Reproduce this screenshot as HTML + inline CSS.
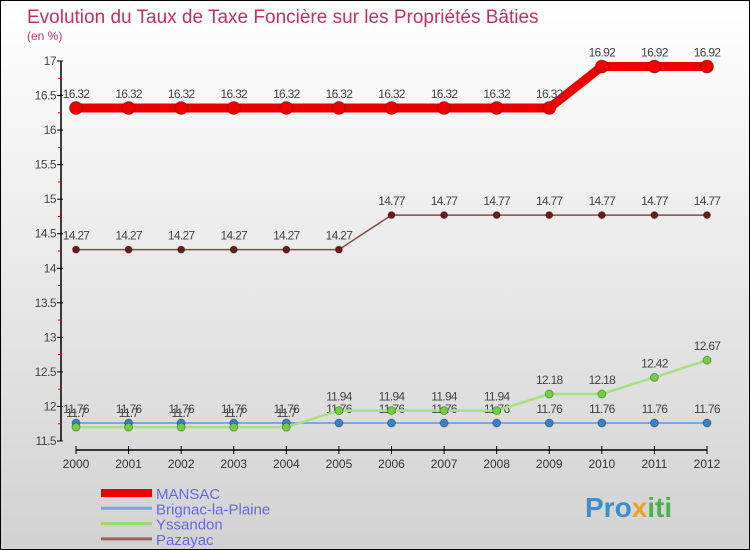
<!DOCTYPE html>
<html><head><meta charset="utf-8"><style>
body{margin:0}
#c{width:748px;height:548px;border:1px solid #000;background:linear-gradient(#fff,#d2d2d2);position:relative;font-family:"Liberation Sans",sans-serif;overflow:hidden}
</style></head><body>
<div id="c">
<svg id="s" width="748" height="548" xmlns="http://www.w3.org/2000/svg">
<text x="26" y="22" font-size="19" fill="#c0306a">Evolution du Taux de Taxe Foncière sur les Propriétés Bâties</text>
<text x="26" y="39" font-size="12" fill="#c0306a">(en %)</text>
<g id="axes"></g><g id="series"></g><g id="legend"></g>
<text x="584" y="516" font-size="28" font-weight="bold"><tspan fill="#3a8fd0">Pro</tspan><tspan fill="#f0a020">x</tspan><tspan fill="#50b050">iti</tspan></text>
</svg></div>
<script>
const years=[2000,2001,2002,2003,2004,2005,2006,2007,2008,2009,2010,2011,2012];
const mansac=[16.32,16.32,16.32,16.32,16.32,16.32,16.32,16.32,16.32,16.32,16.92,16.92,16.92];
const brignac=[11.76,11.76,11.76,11.76,11.76,11.76,11.76,11.76,11.76,11.76,11.76,11.76,11.76];
const yssandon=[11.7,11.7,11.7,11.7,11.7,11.94,11.94,11.94,11.94,12.18,12.18,12.42,12.67];
const pazayac=[14.27,14.27,14.27,14.27,14.27,14.27,14.77,14.77,14.77,14.77,14.77,14.77,14.77];
const yTicks=[11.5,12,12.5,13,13.5,14,14.5,15,15.5,16,16.5,17];
const seriesNames=["MANSAC","Brignac-la-Plaine","Yssandon","Pazayac"];
const NS="http://www.w3.org/2000/svg";
function X(i){return 75+i*(706-75)/(years.length-1);}
function Y(v){return 440-(v-11.5)*(380/5.5);}
function mk(t,a,p){const e=document.createElementNS(NS,t);for(const k in a)e.setAttribute(k,a[k]);p.appendChild(e);return e;}
const ax=document.getElementById('axes');
let e=mk('line',{x1:60,y1:60,x2:60,y2:440,stroke:'#000','stroke-width':1.5},ax);


e=mk('line',{x1:75,y1:449,x2:706,y2:449,stroke:'#000','stroke-width':1.5},ax);


yTicks.forEach((v,i)=>{
 mk('line',{x1:56,y1:Y(v),x2:62,y2:Y(v),stroke:'#000'},ax);
 if(i<yTicks.length-1)mk('line',{x1:57,y1:Y(v+0.25),x2:61,y2:Y(v+0.25),stroke:'#e00'},ax);
 const t=mk('text',{x:55,y:Y(v)+4,'font-size':12,'text-anchor':'end',fill:'#444','letter-spacing':'-0.5'},ax);
 t.textContent=String(v);
 
 
});
years.forEach((y,i)=>{
 mk('line',{x1:X(i),y1:445,x2:X(i),y2:453,stroke:'#000'},ax);
 const t=mk('text',{x:X(i),y:467,'font-size':12,'text-anchor':'middle',fill:'#333'},ax);
 t.textContent=y;
 
 
});
const sg=document.getElementById('series');
function draw(vals,name,col,dot,w,r,lab){
 const g=mk('g',{},sg);
 
 
 mk('polyline',{points:vals.map((v,i)=>X(i)+','+Y(v)).join(' '),fill:'none',stroke:col,'stroke-width':w},g);
 vals.forEach((v,i)=>{
  const c=mk('circle',{cx:X(i),cy:Y(v),r:r,fill:dot,stroke:'rgba(0,0,0,0.3)'},g);
  
  
  if(lab){const t=mk('text',{x:X(i),y:Y(v)-10,'font-size':12,'text-anchor':'middle',fill:'#444','letter-spacing':'-0.7'},g);t.textContent=v.toFixed(2).replace(/0$/,'');
  
  }
 });
}
draw(pazayac,'pazayac','#8b4a4a','#6b1a1a',1.5,3.5,true);
draw(brignac,'brignac','#5a9ad8','#3a80c8',1.5,4,true);
draw(yssandon,'yssandon','#a8e080','#70d040',2.5,4,true);
draw(mansac,'mansac','#e00','#e00',9,6.5,true);
const lg=document.getElementById('legend');
const cols=['#e00','#7aa8d0','#98d870','#a06060'],ws=[8,3,3,3];
seriesNames.forEach((n,i)=>{
 const yy=492+i*15.3;
 mk('line',{x1:100,y1:yy,x2:151,y2:yy,stroke:cols[i],'stroke-width':ws[i]},lg);
 const t=mk('text',{x:155,y:yy+6,'font-size':15,fill:'#6666ee'},lg);
 t.textContent=n;
 
 
});
</script>
</body></html>
